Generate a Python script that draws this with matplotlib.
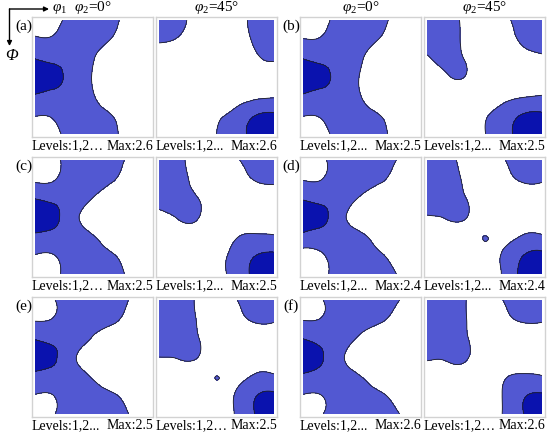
import matplotlib
matplotlib.use("Agg")
import matplotlib.pyplot as plt
from matplotlib.patches import FancyArrowPatch
from matplotlib.tri import Triangulation, UniformTriRefiner
import numpy as np

plt.rcParams['font.family'] = ['Liberation Serif', 'DejaVu Serif']
plt.rcParams['mathtext.fontset'] = 'custom'
plt.rcParams['mathtext.rm'] = 'Liberation Serif'
plt.rcParams['mathtext.it'] = 'Liberation Serif:italic'

# ODF section values on a 15 deg grid: rows = Phi 0..90, cols = phi1 0..90
angles = [0, 15, 30, 45, 60, 75, 90]

a_0 = [[0.50, 0.80, 1.25, 1.40, 1.15, 0.80, 0.60],
       [1.10, 1.10, 1.45, 1.30, 0.98, 0.60, 0.45],
       [1.95, 1.75, 1.60, 1.07, 0.60, 0.40, 0.35],
       [2.60, 2.25, 1.65, 0.97, 0.50, 0.35, 0.30],
       [1.90, 1.70, 1.60, 1.07, 0.60, 0.40, 0.35],
       [1.05, 1.10, 1.45, 1.30, 1.00, 0.60, 0.45],
       [0.50, 0.85, 1.25, 1.40, 1.12, 0.80, 0.60]]
a_45 = [[1.40, 1.20, 0.75, 0.60, 0.75, 1.15, 1.35],
        [1.10, 0.95, 0.60, 0.45, 0.60, 1.10, 1.30],
        [0.60, 0.50, 0.40, 0.35, 0.45, 0.90, 1.05],
        [0.40, 0.35, 0.30, 0.35, 0.45, 0.70, 0.75],
        [0.30, 0.30, 0.35, 0.50, 0.65, 0.80, 0.90],
        [0.30, 0.30, 0.45, 0.85, 1.25, 1.95, 2.15],
        [0.30, 0.30, 0.50, 1.00, 1.60, 2.25, 2.60]]

b_0 = [[0.50, 0.82, 1.25, 1.40, 1.18, 0.80, 0.60],
       [1.02, 1.08, 1.45, 1.30, 0.98, 0.60, 0.45],
       [1.95, 1.75, 1.60, 1.10, 0.60, 0.40, 0.35],
       [2.50, 2.20, 1.65, 0.95, 0.50, 0.35, 0.30],
       [1.90, 1.70, 1.60, 1.02, 0.55, 0.40, 0.35],
       [1.05, 1.10, 1.45, 1.30, 1.00, 0.60, 0.45],
       [0.50, 0.82, 1.25, 1.40, 1.15, 0.80, 0.60]]
b_45 = [[1.50, 1.40, 0.80, 0.55, 0.85, 1.20, 1.40],
        [1.30, 1.30, 0.85, 0.50, 0.60, 1.15, 1.30],
        [0.95, 1.15, 0.95, 0.40, 0.45, 0.75, 0.92],
        [0.70, 0.93, 0.98, 0.40, 0.40, 0.65, 0.75],
        [0.45, 0.50, 0.50, 0.55, 0.75, 0.92, 1.03],
        [0.35, 0.35, 0.45, 0.90, 1.40, 2.05, 2.15],
        [0.30, 0.30, 0.50, 0.97, 1.60, 2.35, 2.50]]

c_0 = [[0.55, 0.85, 1.30, 1.45, 1.30, 0.85, 0.60],
       [0.85, 0.95, 1.45, 1.35, 1.10, 0.60, 0.45],
       [1.95, 1.75, 1.50, 1.00, 0.55, 0.40, 0.35],
       [2.50, 2.20, 1.30, 0.55, 0.40, 0.35, 0.30],
       [1.85, 1.70, 1.45, 1.05, 0.55, 0.40, 0.35],
       [0.99, 1.00, 1.40, 1.35, 1.07, 0.65, 0.45],
       [0.55, 0.85, 1.30, 1.45, 1.30, 0.85, 0.60]]
c_45 = [[1.45, 1.15, 0.70, 0.50, 0.90, 1.25, 1.45],
        [1.40, 1.30, 0.70, 0.45, 0.60, 1.05, 1.15],
        [1.30, 1.25, 1.02, 0.50, 0.40, 0.50, 0.68],
        [0.78, 1.05, 1.05, 0.45, 0.40, 0.55, 0.70],
        [0.50, 0.60, 0.65, 0.45, 0.90, 1.10, 1.05],
        [0.35, 0.40, 0.45, 0.70, 1.30, 1.95, 2.15],
        [0.30, 0.35, 0.45, 0.75, 1.35, 2.20, 2.50]]

d_0 = [[0.55, 0.90, 1.30, 1.45, 1.35, 0.95, 0.65],
       [0.95, 1.00, 1.40, 1.35, 1.15, 0.65, 0.45],
       [1.90, 1.70, 1.50, 0.90, 0.50, 0.40, 0.35],
       [2.40, 2.20, 1.30, 0.42, 0.40, 0.35, 0.30],
       [1.80, 1.60, 1.50, 1.20, 0.60, 0.45, 0.35],
       [0.65, 0.95, 1.40, 1.45, 1.10, 0.70, 0.50],
       [0.50, 0.85, 1.30, 1.45, 1.35, 0.95, 0.65]]
d_45 = [[1.50, 1.25, 0.75, 0.55, 0.95, 1.30, 1.45],
        [1.45, 1.35, 0.85, 0.45, 0.70, 1.10, 1.08],
        [1.35, 1.30, 1.02, 0.45, 0.40, 0.55, 0.68],
        [0.95, 1.05, 1.05, 0.50, 0.45, 0.55, 0.65],
        [0.55, 0.60, 0.60, 1.002, 0.75, 1.05, 1.08],
        [0.40, 0.45, 0.55, 0.75, 1.10, 1.95, 2.20],
        [0.35, 0.40, 0.50, 0.80, 1.10, 2.30, 2.40]]

e_0 = [[0.55, 0.98, 1.30, 1.45, 1.35, 0.95, 0.65],
       [0.92, 1.05, 1.40, 1.35, 1.20, 0.70, 0.50],
       [1.90, 1.70, 1.50, 0.95, 0.55, 0.40, 0.35],
       [2.50, 2.12, 1.15, 0.55, 0.45, 0.35, 0.30],
       [1.75, 1.60, 1.40, 0.90, 0.50, 0.40, 0.35],
       [0.98, 1.02, 1.40, 1.35, 1.10, 0.70, 0.50],
       [0.55, 0.98, 1.30, 1.45, 1.35, 0.95, 0.65]]
e_45 = [[1.50, 1.35, 0.90, 0.55, 0.95, 1.30, 1.45],
        [1.45, 1.40, 0.95, 0.45, 0.70, 1.10, 1.08],
        [1.40, 1.35, 1.05, 0.45, 0.40, 0.55, 0.68],
        [1.00, 1.05, 1.02, 0.50, 0.45, 0.55, 0.65],
        [0.55, 0.60, 0.60, 1.0006, 0.75, 1.10, 1.10],
        [0.40, 0.45, 0.55, 0.70, 1.05, 1.90, 2.15],
        [0.35, 0.40, 0.50, 0.75, 1.05, 2.00, 2.50]]

f_0 = [[0.55, 0.98, 1.30, 1.45, 1.40, 1.02, 0.65],
       [0.95, 1.05, 1.40, 1.35, 1.15, 0.70, 0.50],
       [1.95, 1.70, 1.45, 0.85, 0.50, 0.40, 0.35],
       [2.60, 2.05, 1.15, 0.47, 0.40, 0.35, 0.30],
       [1.85, 1.65, 1.40, 1.00, 0.55, 0.40, 0.35],
       [0.98, 1.02, 1.40, 1.35, 1.12, 0.70, 0.50],
       [0.55, 0.98, 1.30, 1.45, 1.40, 1.02, 0.65]]
f_45 = [[1.50, 1.45, 1.03, 0.60, 1.02, 1.35, 1.45],
        [1.50, 1.45, 1.05, 0.45, 0.75, 1.10, 1.08],
        [1.45, 1.40, 1.10, 0.45, 0.40, 0.55, 0.68],
        [1.10, 1.10, 1.10, 0.45, 0.40, 0.55, 0.70],
        [0.60, 0.65, 0.65, 0.55, 0.90, 1.10, 1.02],
        [0.40, 0.45, 0.55, 0.75, 1.05, 1.85, 2.10],
        [0.35, 0.40, 0.50, 0.75, 1.05, 1.95, 2.60]]

panel_tags = ['(a)', '(b)', '(c)', '(d)', '(e)', '(f)']
sections_0 = [a_0, b_0, c_0, d_0, e_0, f_0]
sections_45 = [a_45, b_45, c_45, d_45, e_45, f_45]
max_values = [2.6, 2.5, 2.5, 2.4, 2.5, 2.6]
# left / right caption of the "Levels" text (original mixes … and ...)
levels_text = [('Levels:1,2…', 'Levels:1,2...'), ('Levels:1,2...', 'Levels:1,2...'),
               ('Levels:1,2…', 'Levels:1,2...'), ('Levels:1,2...', 'Levels:1,2...'),
               ('Levels:1,2...', 'Levels:1,2…'), ('Levels:1,2...', 'Levels:1,2…')]
headers = [r'$\varphi_2$=0°', r'$\varphi_2$=45°']

light_blue = '#5258D2'
dark_blue = '#0A12AE'

W, H = 550, 439
fig = plt.figure(figsize=(W / 100, H / 100), dpi=100)

col_left = [32, 156, 300, 424]
row_top = [18, 158, 298]
box_w, box_h = 121, 120

g = np.array(angles, dtype=float)
gx, gy = np.meshgrid(g, g)
tri = Triangulation(gx.ravel(), gy.ravel())
refiner = UniformTriRefiner(tri)


def fx(px):
    return px / W


def fy(py):
    return 1 - py / H


def draw_section(ax, values):
    z = np.array(values, dtype=float).ravel()
    tri_f, z_f = refiner.refine_field(z, subdiv=4)
    ax.tricontourf(tri_f, z_f, levels=[1, 2, 10], colors=[light_blue, dark_blue])
    ax.tricontour(tri_f, z_f, levels=[1, 2], colors='#222222', linewidths=0.6)
    ax.set_xlim(-2.5, 92.5)
    ax.set_ylim(92.5, -2.5)
    ax.set_xticks([])
    ax.set_yticks([])
    for s in ax.spines.values():
        s.set_color('#d2d2d2')
        s.set_linewidth(1.0)


for i, tag in enumerate(panel_tags):
    r, c = i // 2, i % 2
    top = row_top[r]
    for k, values in enumerate([sections_0[i], sections_45[i]]):
        left = col_left[2 * c + k]
        ax = fig.add_axes([fx(left), fy(top + box_h), box_w / W, box_h / H])
        draw_section(ax, values)
        fig.text(fx(left), fy(top + box_h + 8), levels_text[i][k],
                 ha='left', va='center', fontsize=10)
        fig.text(fx(left + box_w), fy(top + box_h + 8), 'Max:%.1f' % max_values[i],
                 ha='right', va='center', fontsize=10)
        if r == 0:
            fig.text(fx(left + box_w / 2), fy(8), headers[k],
                     ha='center', va='center', fontsize=11)
    tag_x = 24 if c == 0 else 291
    fig.text(fx(tag_x), fy(top + 8), tag, ha='center', va='center', fontsize=11)

# axis direction arrows in the top-left corner
arrow = dict(arrowstyle='-|>', color='black', lw=1.0, mutation_scale=7,
             shrinkA=0, shrinkB=0)
fig.add_artist(FancyArrowPatch((fx(9.5), fy(10)), (fx(49), fy(10)),
                               transform=fig.transFigure, **arrow))
fig.add_artist(FancyArrowPatch((fx(9.5), fy(10)), (fx(9.5), fy(47)),
                               transform=fig.transFigure, **arrow))
fig.text(fx(52), fy(9), r'$\varphi_1$', ha='left', va='center', fontsize=11)
fig.text(fx(11), fy(56), 'Φ', ha='center', va='center', fontsize=12, style='italic')

fig.savefig('out.png', dpi=100, facecolor='white')
